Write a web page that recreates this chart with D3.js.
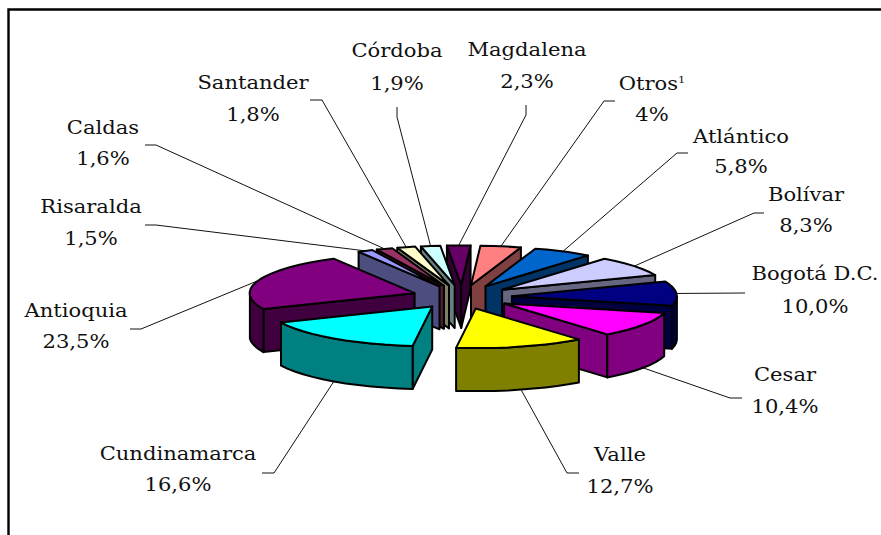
<!DOCTYPE html>
<html><head><meta charset="utf-8">
<script src="https://cdn.jsdelivr.net/npm/d3@7"></script>
<style>html,body{margin:0;padding:0;background:#fff}svg{display:block}
text{font-family:"DejaVu Serif",serif;font-size:18.5px;fill:#111;text-anchor:middle}</style>
</head><body><svg id="c" width="881" height="535"></svg>
<script>
const categories=["Magdalena","Otros","Atlántico","Bolívar","Bogotá D.C.","Cesar","Valle","Cundinamarca","Antioquia","Risaralda","Caldas","Santander","Córdoba"];
const values=[2.3,4,5.8,8.3,10.0,10.4,12.7,16.6,23.5,1.5,1.6,1.8,1.9];
const valueLabels=["2,3%","4%","5,8%","8,3%","10,0%","10,4%","12,7%","16,6%","23,5%","1,5%","1,6%","1,8%","1,9%"];
const topColors=["#660066","#FF8080","#0066CC","#CCCCFF","#000080","#FF00FF","#FFFF00","#00FFFF","#800080","#9999FF","#993366","#FFFFCC","#CCFFFF"];
const wallColors=["#330033","#804040","#003366","#666680","#000040","#800080","#808000","#008080","#400040","#4D4D80","#4D1A33","#808066","#668080"];
// layout: label centre x, first-line baseline, second-line baseline
const labelPos=[[527,55.5,87.5],[652,89.5,120.5],[741,143,172.5],[806,200.5,232],[815,280,312.5],[785,381,412.5],[620,461,492.5],[178,459.5,490.5],[76,316.5,347.5],[91,212.5,244.5],[103,133.5,164.5],[253,88.5,120.5],[397,57,89.5]];
// layout: leader [end x, end y, elbow x, elbow y]
const leaderPos=[[526,105,526,115],[615,101,604,101],[688,153,677,153],[764,213,754,213],[745,293,745,293],[742,398,730,398],[579,473,567,473],[262,473,274,473],[130,329,141,329],[145,225,156,225],[145,145,156,145],[310,100,322,100],[397,107,397,117]];

const svg=d3.select("#c");
const cx=462,cy=297,R=165,yRatio=0.24,explode=50,depth=43,rot=-5*Math.PI/180;
const sx=d3.scaleLinear().domain([-1,1]).range([cx-1,cx+1]);
const sy=d3.scaleLinear().domain([-1,1]).range([cy+yRatio,cy-yRatio]);
const pie=d3.pie().sort(null).startAngle(rot).endAngle(rot+2*Math.PI);
const arcs=pie(values).map((d,i)=>({...d,i,mid:(d.startAngle+d.endAngle)/2}));
const pt=(r,a,ox,oy,h=0)=>[sx(ox+r*Math.sin(a)),sy(oy+r*Math.cos(a))+h];
const path=p=>"M"+p.map(q=>q[0].toFixed(1)+","+q[1].toFixed(1)).join("L")+"Z";
const area=p=>d3.polygonArea(p);

// frame
svg.append("path").attr("d","M881,9.5H8.5V535").attr("fill","none").attr("stroke","#000").attr("stroke-width",2.4);

// leader lines
arcs.forEach(d=>{
  const ox=explode*Math.sin(d.mid),oy=explode*Math.cos(d.mid);
  const h=Math.cos(d.mid)<0?depth:0;
  const s=pt(R,d.mid,ox,oy,h),l=leaderPos[d.i];
  svg.append("path").attr("d",`M${s[0]},${s[1]}L${l[2]},${l[3]}L${l[0]},${l[1]}`)
    .attr("fill","none").attr("stroke","#111").attr("stroke-width",1);
});

// slices back to front
const order=arcs.slice().sort((a,b)=>Math.cos(b.mid)-Math.cos(a.mid));
order.forEach(d=>{
  const g=svg.append("g").attr("stroke","#000").attr("stroke-width",2).attr("stroke-linejoin","round");
  const ox=explode*Math.sin(d.mid),oy=explode*Math.cos(d.mid);
  const n=Math.max(2,Math.ceil((d.endAngle-d.startAngle)/(5*Math.PI/180)));
  const angs=d3.range(n+1).map(k=>d.startAngle+(d.endAngle-d.startAngle)*k/n);
  const rim=angs.map(a=>pt(R,a,ox,oy));
  const apex=pt(0,0,ox,oy);
  const down=p=>[p[0],p[1]+depth];
  const wall=(a,b)=>[a,b,down(b),down(a)];
  const fill=wallColors[d.i];
  [wall(rim[0],apex),wall(apex,rim[n])].forEach(q=>{
    if(area(q)<0) g.append("path").attr("d",path(q)).attr("fill",fill);
  });
  const front=[];
  angs.forEach((a,k)=>{ if(Math.cos(a)<=0) front.push(rim[k]); });
  if(front.length>1){
    const q=front.concat(front.slice().reverse().map(down));
    g.append("path").attr("d",path(q)).attr("fill",fill);
  }
  g.append("path").attr("d",path([apex].concat(rim))).attr("fill",topColors[d.i]);
});

// labels
const stretch=1.14;
const place=(x,y)=>`translate(${x},${y}) scale(${stretch},1)`;
arcs.forEach(d=>{
  const p=labelPos[d.i];
  const t=svg.append("text").attr("transform",place(p[0],p[1])).text(categories[d.i]);
  if(categories[d.i]==="Otros") t.append("tspan").attr("dy",-7).style("font-size","10px").text("1");
  svg.append("text").attr("transform",place(p[0],p[2])).text(valueLabels[d.i]);
});
</script></body></html>
